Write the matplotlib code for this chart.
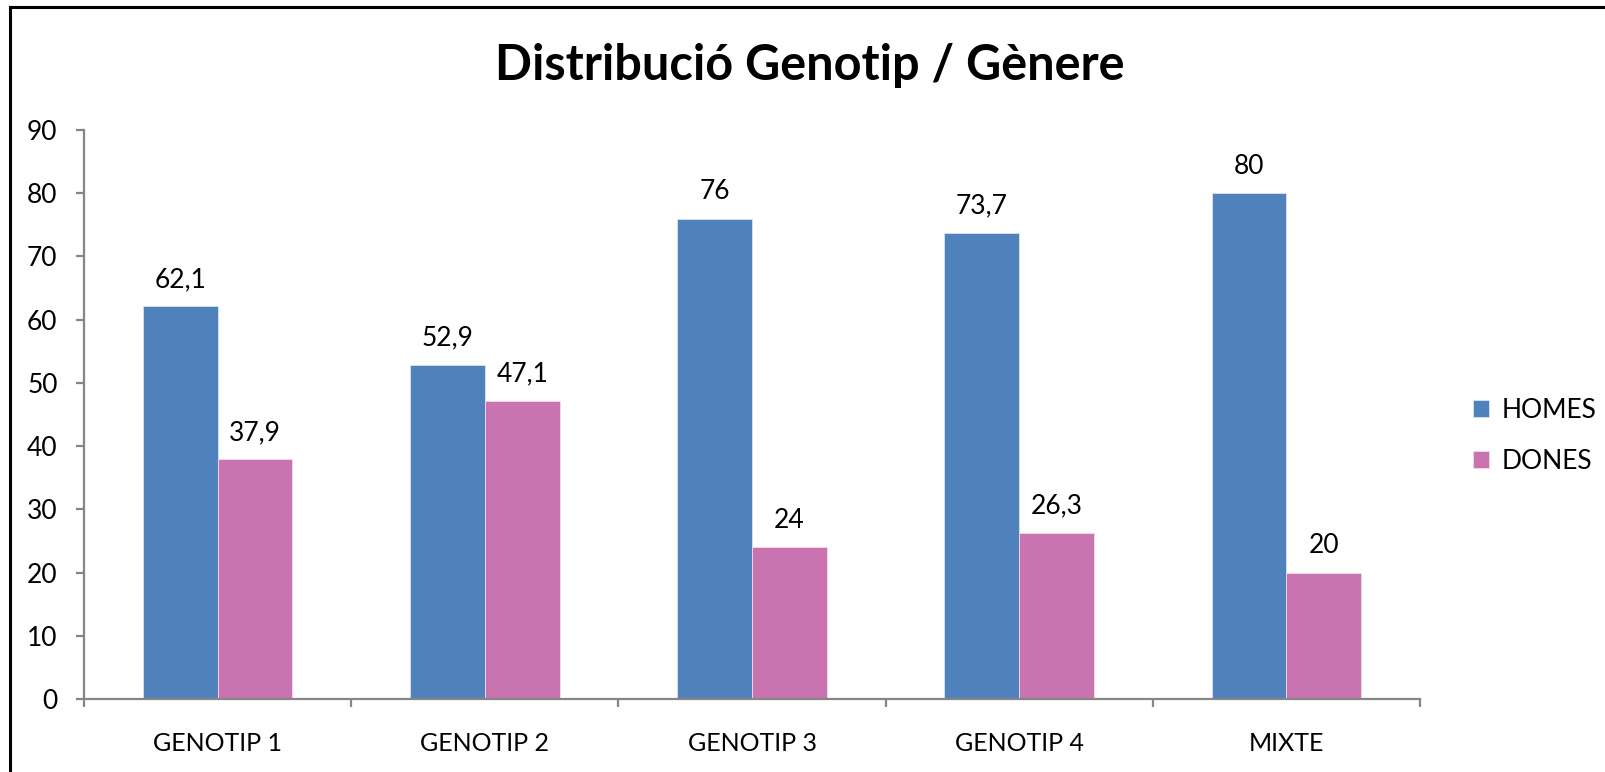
import numpy as np
import matplotlib
matplotlib.use("Agg")
import matplotlib.pyplot as plt
from matplotlib.lines import Line2D

plt.rcParams['font.family'] = ['Lato', 'DejaVu Sans']

categories = ['GENOTIP 1', 'GENOTIP 2', 'GENOTIP 3', 'GENOTIP 4', 'MIXTE']
homes = [62.1, 52.9, 76, 73.7, 80]
dones = [37.9, 47.1, 24, 26.3, 20]
series_names = ['HOMES', 'DONES']
colors = ['#4F81BD', '#C973B0']

W, H = 1606, 772
fig = plt.figure(figsize=(W / 100, H / 100), dpi=100)

# chart border (only top and left visible in the crop)
fig.add_artist(Line2D([10 / W, 10 / W], [0, 1 - 7 / H], color='black', lw=2.2))
fig.add_artist(Line2D([10 / W, 1], [1 - 7 / H, 1 - 7 / H], color='black', lw=2.2))

ax = fig.add_axes([84 / W, 1 - 699 / H, (1420 - 84) / W, (699 - 130) / H])

x = np.arange(len(categories))
bw = 0.28
b1 = ax.bar(x - bw / 2, homes, bw, color=colors[0], edgecolor='#dbe4f0', linewidth=0.6, label=series_names[0])
b2 = ax.bar(x + bw / 2, dones, bw, color=colors[1], edgecolor='#f3dcec', linewidth=0.6, label=series_names[1])

def fmt(v):
    return ('%g' % v).replace('.', ',')

for bars, vals in ((b1, homes), (b2, dones)):
    for rect, v in zip(bars, vals):
        ax.annotate(fmt(v), (rect.get_x() + rect.get_width() / 2, v),
                    xytext=(0, 14), textcoords='offset points',
                    ha='center', va='baseline', fontsize=19, color='black')

ax.set_xlim(-0.5, len(categories) - 0.5)
ax.set_ylim(0, 90)
ax.set_yticks(np.arange(0, 91, 10))
ax.set_xticks(x)
ax.set_xticklabels(categories)
ax.set_xticks(np.arange(-0.5, len(categories), 1), minor=True)

gray = '#868686'
for s in ('top', 'right'):
    ax.spines[s].set_visible(False)
for s in ('left', 'bottom'):
    ax.spines[s].set_color(gray)
    ax.spines[s].set_linewidth(1.6)

ax.tick_params(axis='y', length=6, width=1.6, color=gray, pad=13, labelsize=19)
ax.tick_params(axis='x', which='major', length=0, pad=24, labelsize=18)
ax.tick_params(axis='x', which='minor', length=6, width=1.6, color=gray)

fig.text(810 / W, 1 - 65 / H, 'Distribució Genotip / Gènere', ha='center', va='center',
         fontsize=35, fontweight='bold')

fig.legend(handles=[b1, b2], loc='center left', bbox_to_anchor=(1462 / W, 1 - 436 / H),
           frameon=False, fontsize=19, handlelength=0.62, handleheight=0.62,
           handletextpad=0.5, labelspacing=1.0, borderaxespad=0)

fig.savefig('out.png', dpi=100)
